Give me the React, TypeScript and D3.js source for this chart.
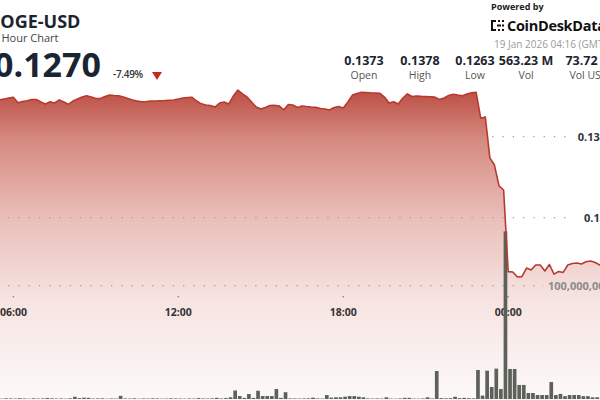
import React from "react";
import * as d3 from "d3";

const START = Date.UTC(2026, 0, 18, 4, 20);
const STEP_MIN = 10;

const prices = [
  0.13727, 0.13733, 0.1372, 0.13727, 0.13739, 0.1372, 0.13733, 0.13727, 0.13733, 0.13739,
  0.13743, 0.1371, 0.13717, 0.13722, 0.1373, 0.1373, 0.13714, 0.13702, 0.13716, 0.13708,
  0.13727, 0.13714, 0.137, 0.1372, 0.13733, 0.13745, 0.13753, 0.13745, 0.13736, 0.13736,
  0.13748, 0.13757, 0.13754, 0.13753, 0.13745, 0.13736, 0.13727, 0.1372, 0.13716, 0.13717,
  0.1372, 0.1372, 0.13722, 0.13723, 0.13725, 0.13727, 0.13733, 0.13739, 0.13742, 0.13743,
  0.1372, 0.13703, 0.13696, 0.13693, 0.13683, 0.13708, 0.13714, 0.13702, 0.13751, 0.13788,
  0.13764, 0.13745, 0.13714, 0.13683, 0.13671, 0.1368, 0.13693, 0.13694, 0.1369, 0.13665,
  0.13699, 0.13696, 0.1368, 0.1369, 0.13686, 0.13683, 0.13681, 0.13674, 0.13671, 0.13665,
  0.1368, 0.13686, 0.13677, 0.13714, 0.13757, 0.13767, 0.13774, 0.13773, 0.13771, 0.1377,
  0.13768, 0.13745, 0.13708, 0.13716, 0.13702, 0.13739, 0.13764, 0.13748, 0.13751, 0.13749,
  0.13748, 0.13746, 0.13744, 0.1373, 0.13739, 0.13754, 0.13762, 0.13757, 0.13753, 0.13764,
  0.13771, 0.13774, 0.13614, 0.13622, 0.13369, 0.13325, 0.13196, 0.13171, 0.12667, 0.12665,
  0.12634, 0.12636, 0.12689, 0.12677, 0.12708, 0.12708, 0.12671, 0.12711, 0.12652, 0.12668,
  0.12662, 0.12708, 0.12717, 0.1272, 0.12714, 0.12728, 0.12733, 0.12723, 0.12708, 0.12708,
  0.12714, 0.12702, 0.12702, 0.127,
];

// volumes in millions of DOGE
const volumes = [
  0.5, 0.3, 0.6, 0.4, 0.5, 0.8, 0.4, 0.3, 0.6, 0.5,
  0.4, 0.7, 0.5, 0.3, 0.6, 0.4, 0.5, 0.9, 0.6, 0.4,
  0.5, 0.3, 0.6, 2.0, 0.8, 1.2, 1.0, 0.4, 0.5, 0.6,
  0.3, 0.5, 0.4, 2.8, 0.5, 0.4, 0.6, 0.3, 0.5, 0.4,
  0.6, 0.5, 0.3, 0.4, 0.6, 0.5, 0.4, 0.3, 0.5, 0.4,
  0.8, 0.5, 0.4, 0.6, 1.0, 0.5, 0.8, 1.5, 7.5, 2.6,
  1.0, 4.4, 1.0, 7.3, 2.6, 2.6, 2.6, 8.8, 1.0, 6.0,
  0.5, 0.5, 0.4, 0.5, 0.6, 1.2, 0.5, 0.4, 3.5, 1.2,
  1.5, 1.5, 2.0, 2.6, 2.6, 2.0, 1.5, 0.5, 0.4, 0.5,
  0.4, 1.5, 0.4, 0.3, 0.5, 1.0, 1.0, 0.4, 0.3, 0.5,
  1.5, 0.5, 24.7, 0.8, 0.6, 0.7, 2.0, 0.8, 1.0, 0.7,
  0.6, 25.6, 3.0, 25.0, 10.6, 26.8, 8.8, 148, 26.5, 26.5,
  12.4, 12.4, 5.3, 5.3, 3.5, 3.5, 3.5, 15.0, 3.5, 4.5,
  2.5, 3.5, 3.5, 3.5, 2.5, 2.5, 1.5, 1.5, 1.5, 1.2,
  1.5, 1.0, 1.2, 0.8,
];

const priceTicks = [0.13, 0.135];
const priceTickLabels = ["0.13", "0.135"];
const volumeTicks = [100];
const volumeTickLabels = ["100,000,000"];
const timeTicks = [
  Date.UTC(2026, 0, 18, 6),
  Date.UTC(2026, 0, 18, 12),
  Date.UTC(2026, 0, 18, 18),
  Date.UTC(2026, 0, 19, 0),
];
const timeTickLabels = ["06:00", "12:00", "18:00", "00:00"];

const statValues = ["0.1373", "0.1378", "0.1263", "563.23 M", "73.72 M"];
const statLabels = ["Open", "High", "Low", "Vol", "Vol USD"];

const FONT = "'Open Sans', 'Noto Sans', sans-serif";

export default function App() {
  const W = 600;
  const H = 400;
  const x = d3
    .scaleUtc()
    .domain([new Date(timeTicks[0]), new Date(timeTicks[3])])
    .range([13.4, 508.2]);
  const yP = d3.scaleLinear().domain([0.13, 0.135]).range([217.7, 136.7]);
  const yV = d3.scaleLinear().domain([0, 100]).range([399, 285.7]);

  const pts = prices.map((p, i) => ({
    t: new Date(START + i * STEP_MIN * 60000),
    p,
  }));
  const step = x(new Date(START + STEP_MIN * 60000)) - x(new Date(START));

  const line = d3
    .line<{ t: Date; p: number }>()
    .x((d) => x(d.t))
    .y((d) => yP(d.p));
  const area = d3
    .area<{ t: Date; p: number }>()
    .x((d) => x(d.t))
    .y0(H + 5)
    .y1((d) => yP(d.p));

  const statX = [364, 420, 475, 526, 589];

  return (
    <svg
      width={W}
      height={H}
      style={{ position: "absolute", left: 0, top: 0, background: "#fff" }}
      fontFamily={FONT}
    >
      <defs>
        <linearGradient id="areaGrad" gradientUnits="userSpaceOnUse" x1="0" y1="90" x2="0" y2="400">
          <stop offset="0" stopColor="rgb(188,78,68)" />
          <stop offset="0.16" stopColor="rgb(214,138,128)" />
          <stop offset="0.42" stopColor="rgb(234,192,187)" />
          <stop offset="0.68" stopColor="rgb(246,228,226)" />
          <stop offset="1" stopColor="rgb(253,249,249)" />
        </linearGradient>
      </defs>

      <path d={area(pts) || ""} fill="url(#areaGrad)" />

      {/* gridlines */}
      {priceTicks.map((t) => (
        <line
          key={"pg" + t}
          x1={8}
          x2={572}
          y1={yP(t)}
          y2={yP(t)}
          stroke="#a0a0a0"
          strokeWidth={1.3}
          strokeDasharray="1.3 9"
        />
      ))}
      {volumeTicks.map((t) => (
        <line
          key={"vg" + t}
          x1={8}
          x2={544}
          y1={yV(t)}
          y2={yV(t)}
          stroke="#a0a0a0"
          strokeWidth={1.3}
          strokeDasharray="1.3 9"
        />
      ))}

      {/* axis labels */}
      {priceTicks.map((t, i) => (
        <text
          key={"pl" + t}
          x={606}
          y={yP(t) + 4}
          textAnchor="end"
          fontSize={11}
          fontWeight={700}
          fill="#2b3440"
        >
          {priceTickLabels[i]}
        </text>
      ))}
      {volumeTicks.map((t, i) => (
        <text
          key={"vl" + t}
          x={548}
          y={yV(t) + 4}
          fontSize={11}
          fontWeight={700}
          fill="#8a8a8a"
        >
          {volumeTickLabels[i]}
        </text>
      ))}
      {timeTicks.map((t, i) => (
        <g key={"tt" + t}>
          <rect x={x(new Date(t)) - 0.7} y={296} width={1.4} height={1.4} fill="#888" />
          <text
            x={x(new Date(t))}
            y={316}
            textAnchor="middle"
            fontSize={10.5}
            fontWeight={700}
            fill="#333"
          >
            {timeTickLabels[i]}
          </text>
        </g>
      ))}

      {/* volume bars */}
      {volumes.map((v, i) => {
        const xv = x(new Date(START + i * STEP_MIN * 60000));
        return (
          <rect
            key={"v" + i}
            x={xv}
            y={yV(v)}
            width={step - 0.9}
            height={yV(0) - yV(v)}
            fill="#5c6259"
          />
        );
      })}

      <path d={line(pts) || ""} fill="none" stroke="#b83a2e" strokeWidth={1.6} strokeLinejoin="round" />

      {/* header left */}
      <text x={-13} y={28} fontSize={18} fontWeight={700} fill="#1c2430">
        DOGE-USD
      </text>
      <text x={-14} y={41.5} fontSize={11} fill="#444">
        24 Hour Chart
      </text>
      <text x={-6} y={76.5} fontSize={34} fontWeight={700} fill="#1a2533">
        0.1270
      </text>
      <text x={113} y={78} fontSize={10} fontWeight={600} fill="#333" letterSpacing={-0.3}>
        -7.49%
      </text>
      <path d="M152,72 L162,72 L157,80 Z" fill="#c62a1f" />

      {/* header right */}
      <text x={491} y={10} fontSize={9} fontWeight={700} fill="#222">
        Powered by
      </text>
      <g fill="#111">
        <rect x={491} y={20} width={2} height={11} />
        <rect x={491} y={20} width={5} height={2} />
        <rect x={491} y={29} width={5} height={2} />
        <rect x={498} y={20} width={2} height={2} />
        <rect x={502} y={20} width={2} height={2} />
        <rect x={498} y={29} width={2} height={2} />
        <rect x={502} y={29} width={2} height={2} />
        <rect x={497} y={24.5} width={4} height={2} />
        <rect x={502} y={24.5} width={2} height={2} />
      </g>
      <text x={507} y={30.5} fontSize={14.5} fontWeight={700} fill="#111" letterSpacing={-0.3}>
        CoinDesk<tspan>Data</tspan>
      </text>
      <text x={494} y={47.5} fontSize={10} fill="#9a9a9a">
        19 Jan 2026 04:16 (GMT)
      </text>
      {statValues.map((s, i) => (
        <g key={"s" + i}>
          <text x={statX[i]} y={64.5} textAnchor="middle" fontSize={12.5} fontWeight={700} fill="#1c2430">
            {s}
          </text>
          <text x={statX[i]} y={78.5} textAnchor="middle" fontSize={10.5} fill="#555">
            {statLabels[i]}
          </text>
        </g>
      ))}
    </svg>
  );
}
